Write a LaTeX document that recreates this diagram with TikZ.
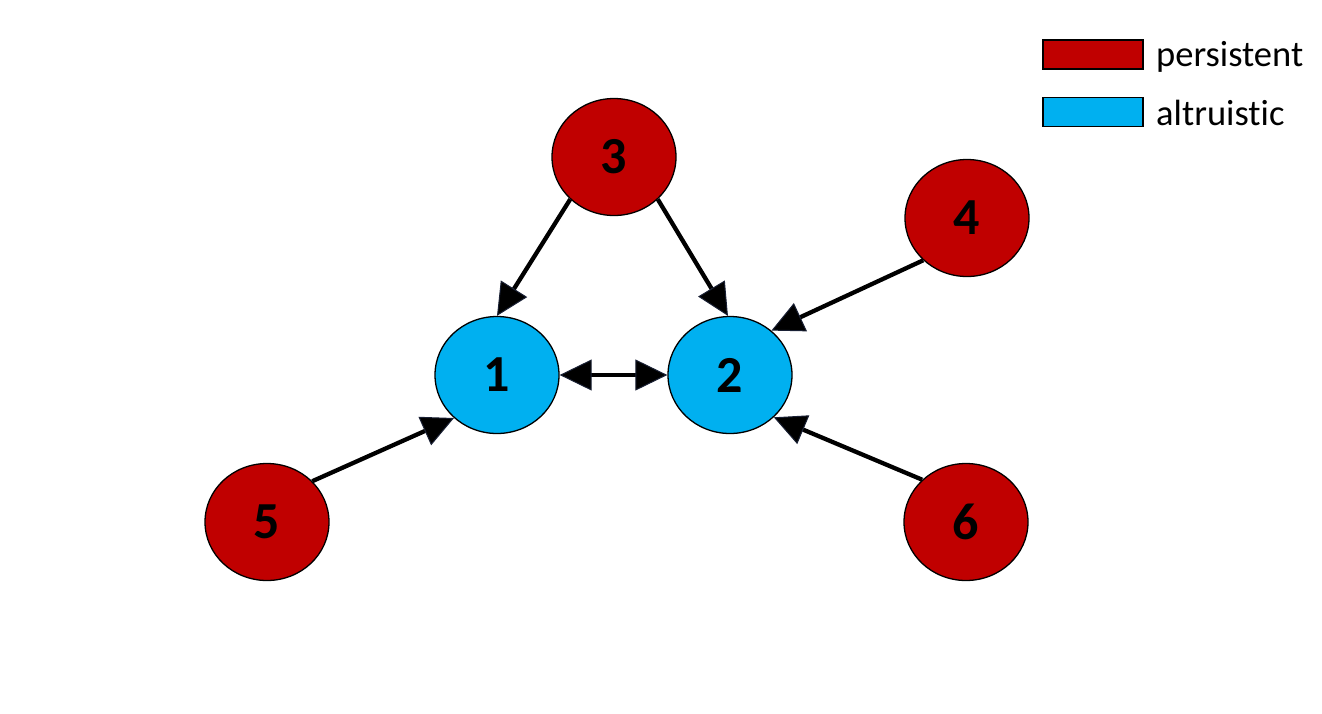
\documentclass[tikz,border=0pt]{standalone}
\usepackage{fontspec}
\setmainfont{Carlito}[Ligatures=NoCommon]
\usetikzlibrary{shapes.geometric,arrows.meta}
\definecolor{pred}{RGB}{192,0,0}
\definecolor{pblue}{RGB}{0,176,240}
\definecolor{tipline}{RGB}{25,32,52}
\tikzset{
  agent/.style={ellipse,draw=black,line width=1.3pt,minimum width=124pt,minimum height=117pt,inner sep=0pt,font=\fontsize{52}{56}\selectfont\bfseries},
  pers/.style={agent,fill=pred},
  altr/.style={agent,fill=pblue},
  tipA/.tip={Triangle[length=32pt,width=31pt,line width=1pt,color=tipline,fill=black]},
  link/.style={line width=4.3pt,draw=black,-tipA},
  legbox/.style={draw=black,line width=1.3pt,minimum width=100pt,minimum height=29pt,inner sep=0pt},
  legtext/.style={anchor=west,inner sep=0pt,font=\fontsize{36.5}{40}\selectfont}
}
\begin{document}
\begin{tikzpicture}[x=1pt,y=-1pt]
\useasboundingbox (0,0) rectangle (1322,713);
\node[altr] (n1) at (497,375) {\raisebox{-3pt}{1}};
\node[altr] (n2) at (730,375) {\raisebox{-3pt}{2}};
\node[pers] (n3) at (614,157) {\raisebox{-3pt}{3}};
\node[pers] (n4) at (967,218) {\raisebox{-3pt}{4}};
\node[pers] (n5) at (267,522) {\raisebox{-3pt}{5}};
\node[pers] (n6) at (966,522) {\raisebox{-3pt}{6}};
\draw[link] (n3.224) -- (n1.90);
\draw[link] (n3.316) -- (n2.92);
\draw[link] (n4.224) -- (n2.47);
\draw[link] (n6.136) -- (n2.316);
\draw[link] (n5.42) -- (n1.225);
\draw[link,tipA-tipA] (n1.east) -- (n2.west);
\node[legbox,fill=pred] (lp) at (1093,54.5) {};
\node[legbox,fill=pblue] (la) at (1093,112) {};
\node[legtext] (tp) at (1156,57) {persistent};
\node[legtext] (ta) at (1156,113) {altruistic};
\end{tikzpicture}
\end{document}
